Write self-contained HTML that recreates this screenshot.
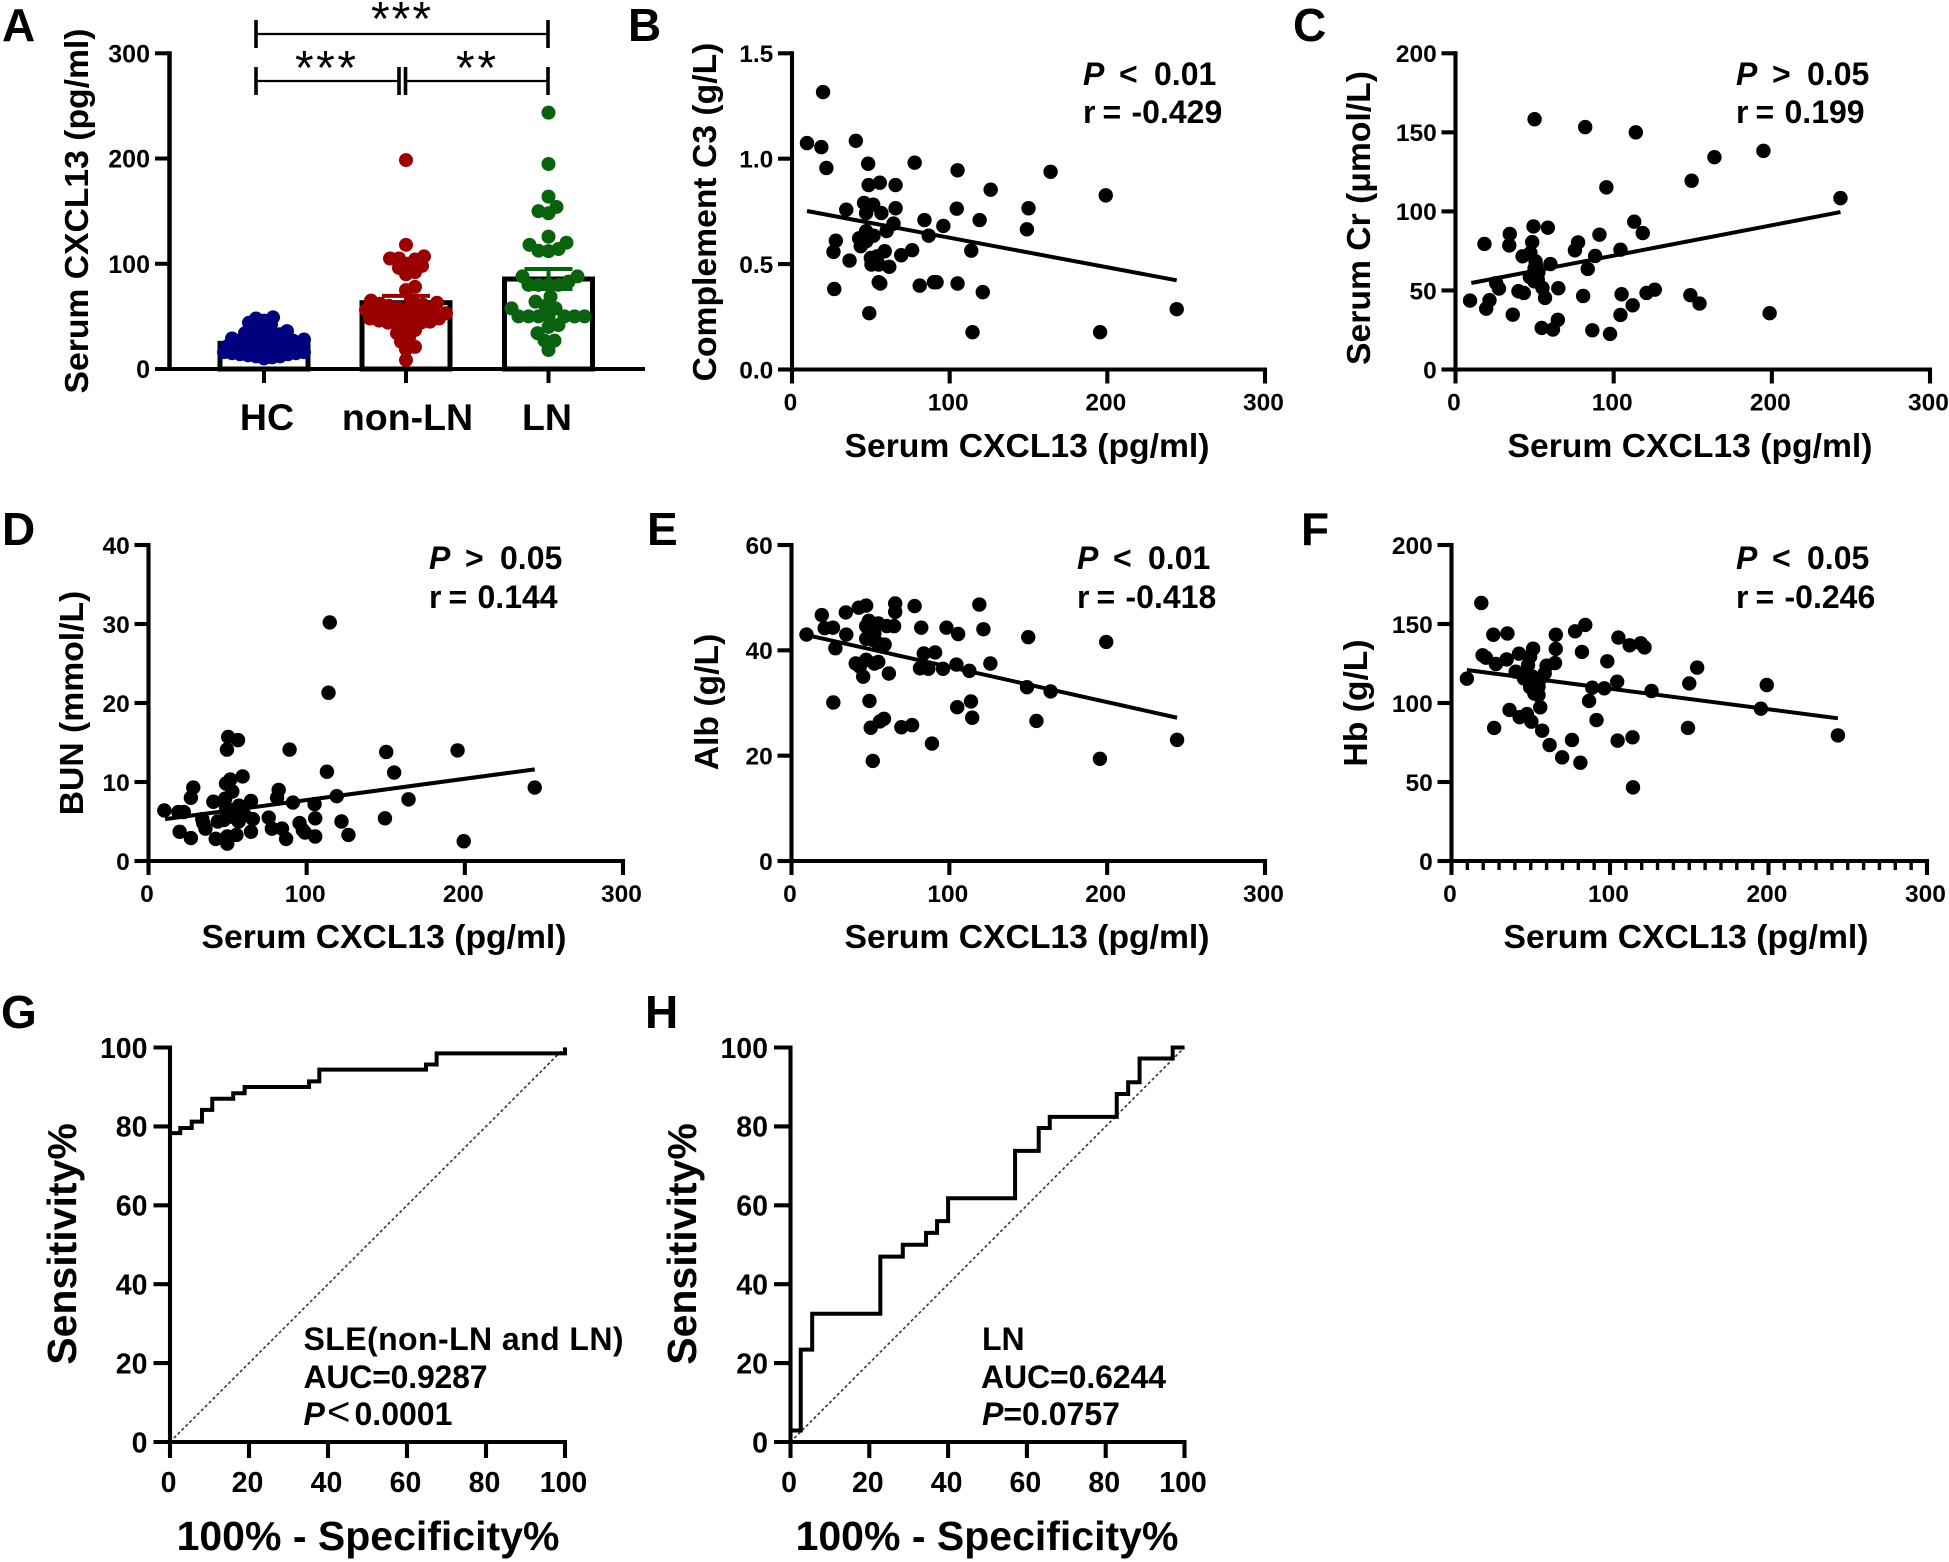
<!DOCTYPE html>
<html lang="en">
<head>
<meta charset="utf-8">
<title>CXCL13 figure panels</title>
<style>
html,body{margin:0;padding:0;background:#fff;}
svg{display:block;font-family:"Liberation Sans",Arial,sans-serif;font-weight:bold;fill:#000;}
.title{font-size:33.7px;}
.letter{font-size:46px;}
.note{font-size:32px;}
.roc-title{font-size:41px;}
</style>
</head>
<body>
<svg id="figure" xmlns="http://www.w3.org/2000/svg" width="1949" height="1562" viewBox="0 0 1949 1562">
  <rect x="0" y="0" width="1949" height="1562" fill="#fff"/>
  <g id="marks"></g>

  <g class="letter">
    <text x="2" y="41">A</text>
    <text x="628" y="41">B</text>
    <text x="1293" y="41">C</text>
    <text x="2" y="545">D</text>
    <text x="647" y="545">E</text>
    <text x="1301" y="545">F</text>
    <text x="1" y="1028">G</text>
    <text x="645" y="1028">H</text>
  </g>

  <g class="title">
    <text text-anchor="middle" transform="translate(88,211) rotate(-90)">Serum CXCL13 (pg/ml)</text>
    <text text-anchor="middle" transform="translate(716,212) rotate(-90)">Complement C3 (g/L)</text>
    <text text-anchor="middle" transform="translate(1370,218) rotate(-90)">Serum Cr (μmol/L)</text>
    <text text-anchor="middle" transform="translate(83,703) rotate(-90)">BUN (mmol/L)</text>
    <text text-anchor="middle" transform="translate(718,702) rotate(-90)">Alb (g/L)</text>
    <text text-anchor="middle" transform="translate(1367,703) rotate(-90)">Hb (g/L)</text>
    <text text-anchor="middle" x="1027" y="457">Serum CXCL13 (pg/ml)</text>
    <text text-anchor="middle" x="1690" y="457">Serum CXCL13 (pg/ml)</text>
    <text text-anchor="middle" x="384" y="948">Serum CXCL13 (pg/ml)</text>
    <text text-anchor="middle" x="1027" y="948">Serum CXCL13 (pg/ml)</text>
    <text text-anchor="middle" x="1686" y="948">Serum CXCL13 (pg/ml)</text>
  </g>

  <g class="roc-title">
    <text text-anchor="middle" transform="translate(76,1244) rotate(-90)">Sensitivity%</text>
    <text text-anchor="middle" transform="translate(696,1244) rotate(-90)">Sensitivity%</text>
    <text text-anchor="middle" x="368" y="1550">100% - Specificity%</text>
    <text text-anchor="middle" x="987" y="1550">100% - Specificity%</text>
  </g>

  <g class="note">
    <g>
      <text x="1083" y="85"><tspan font-style="italic">P</tspan><tspan x="1119">&lt;</tspan><tspan x="1154">0.01</tspan></text>
      <text x="1083" y="123">r<tspan x="1102.5">=</tspan><tspan x="1131.5">-0.429</tspan></text>
    </g>
    <g>
      <text x="1736" y="85"><tspan font-style="italic">P</tspan><tspan x="1772">&gt;</tspan><tspan x="1807">0.05</tspan></text>
      <text x="1736" y="123">r<tspan x="1755.5">=</tspan><tspan x="1784.5">0.199</tspan></text>
    </g>
    <g>
      <text x="429" y="569"><tspan font-style="italic">P</tspan><tspan x="465">&gt;</tspan><tspan x="500">0.05</tspan></text>
      <text x="429" y="608">r<tspan x="448.5">=</tspan><tspan x="477.5">0.144</tspan></text>
    </g>
    <g>
      <text x="1077" y="569"><tspan font-style="italic">P</tspan><tspan x="1113">&lt;</tspan><tspan x="1148">0.01</tspan></text>
      <text x="1077" y="608">r<tspan x="1096.5">=</tspan><tspan x="1125.5">-0.418</tspan></text>
    </g>
    <g>
      <text x="1736" y="569"><tspan font-style="italic">P</tspan><tspan x="1772">&lt;</tspan><tspan x="1807">0.05</tspan></text>
      <text x="1736" y="608">r<tspan x="1755.5">=</tspan><tspan x="1784.5">-0.246</tspan></text>
    </g>
    <g>
      <text x="303.5" y="1350" textLength="320" lengthAdjust="spacing">SLE(non-LN and LN)</text>
      <text x="303.5" y="1388" textLength="184" lengthAdjust="spacing">AUC=0.9287</text>
      <text x="303.5" y="1425"><tspan font-style="italic">P</tspan><tspan x="327" font-weight="normal" font-size="40">&lt;</tspan><tspan x="354.5">0.0001</tspan></text>
    </g>
    <g>
      <text x="982" y="1350">LN</text>
      <text x="981" y="1388" textLength="185" lengthAdjust="spacing">AUC=0.6244</text>
      <text x="982" y="1425"><tspan font-style="italic">P</tspan>=0.0757</text>
    </g>
  </g>

  <g stroke="#000" fill="none">
    <path stroke-width="2.3" d="M256 34H548"/>
    <path stroke-width="3.6" d="M256 20V48 M548 20V48"/>
    <path stroke-width="2.3" d="M256 81H399"/>
    <path stroke-width="3.6" d="M256 67V95 M399 67V95"/>
    <path stroke-width="2.3" d="M405.5 81H548"/>
    <path stroke-width="3.6" d="M405.5 67V95 M548 67V95"/>
  </g>
  <g font-weight="normal" font-size="48">
    <text x="371" y="35" textLength="60" lengthAdjust="spacing" style="font-weight:normal">***</text>
    <text x="295" y="84" textLength="61" lengthAdjust="spacing" style="font-weight:normal">***</text>
    <text x="456" y="84" textLength="40" lengthAdjust="spacing" style="font-weight:normal">**</text>
  </g>
</svg>

<script>
// Panel A data
const categories = ['HC', 'non-LN', 'LN'];
const barMeans = [24.4, 63, 85.5];
const barSems = [1.5, 6.5, 9.5];
const hcValues = [10, 11, 12, 12, 13, 14, 14, 15, 15, 16, 16, 17, 18, 18, 19, 19, 20, 20, 21, 22, 22, 23, 23, 24, 25, 25, 26, 27, 27, 28, 29, 30, 31, 32, 33, 34, 36, 38, 40, 42, 44, 46, 48, 49];
const nonLnValues = [198.5, 118, 107, 105, 105, 104, 100, 98, 96, 92, 90, 78, 75, 65, 64, 63, 62, 61, 60, 58, 57, 56, 55, 55, 54, 53, 52, 51, 50, 49, 48, 48, 47, 46, 45, 44, 44, 43, 40, 37, 34, 30, 26, 21, 18.6, 8.5];
const lnValues = [243.6, 194.8, 163.8, 154, 150, 148, 125.8, 120, 118, 114, 112.4, 112, 88, 88, 83, 80, 80, 80, 80, 68.7, 64, 60, 57.6, 57.6, 50, 50, 50, 50, 50, 50, 50, 41.8, 40, 34, 27, 27, 18];
const yTicksA = [0, 100, 200, 300];

// Panel B data
const bX = [9.5, 19.7, 18.6, 21.8, 40.5, 48.3, 77.8, 105, 164, 126, 199, 48.6, 55.7, 65.7, 34.4, 45.7, 51.5, 47, 56.7, 65.7, 104.5, 150, 119, 84, 64.4, 96, 60, 149, 47, 51.7, 86.7, 42.6, 27.8, 47, 43.6, 26.3, 36.5, 69.3, 76.2, 58.8, 113.7, 50, 54, 50.4, 55, 61.7, 55, 56, 26.8, 81, 90, 91.7, 105, 121, 49, 114.5, 195.4, 244];
const bY = [1.074, 1.316, 1.055, 0.956, 1.085, 0.976, 0.981, 0.945, 0.938, 0.853, 0.826, 0.875, 0.886, 0.875, 0.758, 0.79, 0.782, 0.742, 0.742, 0.765, 0.763, 0.765, 0.709, 0.709, 0.692, 0.681, 0.657, 0.665, 0.656, 0.635, 0.635, 0.622, 0.611, 0.608, 0.585, 0.558, 0.517, 0.542, 0.566, 0.561, 0.564, 0.529, 0.537, 0.498, 0.498, 0.487, 0.414, 0.408, 0.382, 0.398, 0.414, 0.414, 0.408, 0.367, 0.267, 0.177, 0.177, 0.286];
const bFitX = [9.5, 244];
const bFitY = [0.752, 0.423];
const bTicks = ['0.0', '0.5', '1.0', '1.5'];

// Panel C data
const cX = [50, 82, 114, 194.7, 163.7, 149.3, 95.4, 243.4, 113, 49.3, 58.4, 118.4, 34.3, 91, 77.5, 18.3, 34, 48.5, 75.5, 104.3, 47.4, 42.4, 88.3, 50.6, 60, 51, 83.6, 52.4, 47, 25.7, 49.8, 27.5, 55, 65, 39.8, 43.2, 126, 120.8, 105, 80.7, 148.5, 56.6, 9.2, 21.5, 154.3, 19.4, 112, 104.3, 36.2, 198.6, 64.7, 54.5, 61.6, 86.5, 97.7, 50, 52];
const cY = [158.3, 153.3, 150, 138.3, 134.3, 119.4, 115.2, 108.4, 93.5, 90.5, 89.7, 86.3, 85.7, 85.3, 80.4, 79.4, 78.5, 80.6, 75.4, 75.8, 73.7, 71.6, 71.8, 68.4, 66.7, 65.3, 63.6, 61.5, 58.5, 54.7, 55.8, 51.2, 51.6, 51.4, 49.5, 48.4, 50.5, 48.4, 47.6, 46.5, 47, 45.3, 43.6, 43.8, 41.7, 38.5, 40.6, 34.5, 34.7, 35.6, 31.4, 26.3, 25.3, 24.8, 22.5, 64, 57];
const cFitX = [10, 243.4];
const cFitY = [54.7, 99.6];
const cTicks = ['0', '50', '100', '150', '200'];

// Panel D data
const dX = [114.6, 113.8, 50.4, 56.6, 49.6, 89.2, 195.4, 150.3, 112.8, 155.3, 59.5, 51.7, 49, 28.3, 244.2, 82.3, 53, 26.8, 119, 81.3, 164.4, 64.8, 48.5, 41, 91.3, 105, 57.2, 49, 10, 18.9, 22.3, 76, 105.4, 149.5, 66, 122, 60.8, 53, 34, 43.8, 57, 47.7, 34.6, 95.5, 78, 84.4, 97.6, 36, 64.8, 19.7, 98.9, 126.4, 105.4, 26.8, 87, 42.5, 55.6, 49.8, 49.8, 199.3];
const dY = [30.2, 21.3, 15.7, 15.3, 14.1, 14.1, 14, 13.8, 11.3, 11.2, 10.7, 10.3, 9.8, 9.3, 9.3, 9, 8.8, 8, 8.2, 8, 7.8, 7.6, 7.9, 7.5, 7.4, 7.2, 7, 6.8, 6.4, 6.2, 6.2, 5.5, 5.4, 5.4, 5.3, 5, 5.8, 5.6, 5.3, 5, 5, 5.2, 4.8, 4.8, 4.1, 4.1, 3.9, 4.1, 3.7, 3.7, 3.6, 3.3, 3.1, 2.9, 2.8, 2.8, 3.3, 3.1, 2.2, 2.5];
const dFitX = [10.5, 244.2];
const dFitY = [5.3, 11.6];
const dTicks = ['0', '10', '20', '30', '40'];

// Panel E data
const eX = [119, 65.7, 47.3, 42.6, 78, 65.7, 19.2, 34.4, 49, 21, 26.3, 47.3, 55, 60.4, 65, 82.2, 98.2, 121.6, 9.5, 34.7, 105.6, 52.5, 150, 47.3, 51.2, 199.4, 55, 59, 27.8, 57.8, 91, 83.8, 47.3, 55, 40.7, 52.5, 104.5, 126, 43.3, 81.4, 86.7, 96, 112.7, 61.7, 45.4, 149.2, 164.2, 26.5, 49.4, 113.7, 105, 114.5, 155.2, 58.6, 56, 76.4, 69.6, 50.2, 89, 244.3, 195.4, 51.5];
const eY = [48.7, 48.9, 48.5, 48.1, 48.4, 47.3, 46.7, 47.2, 45.6, 44.2, 44.3, 44.6, 45.1, 44.6, 44.6, 44.3, 44.3, 44, 43, 43, 43.1, 43.2, 42.5, 42.2, 42, 41.6, 41.3, 41.1, 40.4, 40.7, 39.6, 39.4, 38.2, 37.8, 37.5, 37.5, 37.3, 37.5, 36.9, 36.6, 36.5, 36.5, 36.1, 35.6, 35, 33, 32.2, 30.1, 30.4, 30.3, 29.2, 27.2, 26.6, 27, 26.5, 25.8, 25.4, 25.3, 22.3, 23, 19.4, 19];
const eFitX = [9.7, 244.3];
const eFitY = [42.9, 27.2];
const eTicks = ['0', '20', '40', '60'];

// Panel F data
const fX = [18.8, 84.4, 78, 35.3, 26.4, 65.8, 105.3, 119.4, 112.4, 121.8, 51.5, 65.8, 82.3, 19.6, 42.6, 49.6, 34.8, 21.7, 98.3, 28, 65.3, 60, 155, 48.3, 40.5, 58.8, 47, 9.7, 51, 45.7, 56.2, 104.5, 150, 198.9, 49.6, 54.9, 88.8, 96.4, 126.2, 52.3, 54.9, 86.8, 195.2, 56, 36.6, 47.6, 43, 50.4, 91.5, 26.9, 149.2, 57.2, 243.8, 114.2, 76, 104.8, 61.9, 69.8, 81.3, 114.5];
const fY = [163.3, 149.4, 145.4, 144, 143.2, 143.2, 141.4, 137.8, 136.5, 135.2, 134.4, 134.2, 132.3, 130.2, 131.2, 129.3, 127.6, 128.7, 126.4, 124.7, 125.3, 123.6, 122.4, 124, 119.8, 118.8, 118.8, 115.4, 116.7, 115.6, 115.6, 113.5, 112.4, 111.4, 110, 110.3, 109.7, 109.3, 107.6, 106, 105, 101.3, 96.4, 97.3, 95.6, 93, 91, 88.2, 89.2, 84.2, 84.2, 82.5, 79.5, 78.3, 76.6, 76.2, 73.4, 65.6, 62.2, 46.6];
const fFitX = [9.7, 243.8];
const fFitY = [120.9, 90.3];
const fTicks = ['0', '50', '100', '150', '200'];

const cxclTicks = ['0', '100', '200', '300'];

// Panels G and H data (ROC step corners)
const gFpr = [0, 0, 2.6, 5.5, 8.1, 10.7, 16, 18.9, 35.2, 37.8, 64.8, 67.5, 100];
const gTpr = [0, 78.3, 79.6, 81.2, 84.2, 87, 88.4, 90, 91.4, 94.4, 95.7, 98.5, 100];
const hFpr = [0, 0, 2.6, 5.5, 22.8, 28.5, 34.4, 37.2, 40, 57, 63, 65.8, 82.8, 85.7, 88.6, 97, 100];
const hTpr = [0, 2.9, 23.4, 32.5, 47, 50, 53, 56, 61.8, 73.8, 79.6, 82.4, 88.2, 91.2, 97.2, 100, 100];
const chanceLine = [0, 100];
const rocTicks = ['0', '20', '40', '60', '80', '100'];

const NS = 'http://www.w3.org/2000/svg';
const root = document.getElementById('marks');

function shape(tag, attrs, parent) {
  const el = document.createElementNS(NS, tag);
  for (const k in attrs) el.setAttribute(k, attrs[k]);
  (parent || root).appendChild(el);
  return el;
}
function linear(d0, d1, r0, r1) {
  return v => r0 + (v - d0) * (r1 - r0) / (d1 - d0);
}

function drawAxis(g, o) {
  // y axis line, x axis line, ticks and tick labels
  const yLine = shape('line', {x1: o.x0, x2: o.x0, y1: o.yTop - o.sw / 2, y2: o.y0 + o.sw / 2, stroke: '#000', 'stroke-width': o.sw}, g);
  
  
  const xLine = shape('line', {x1: o.x0 - o.yTickLen, x2: o.xEnd, y1: o.y0, y2: o.y0, stroke: '#000', 'stroke-width': o.sw}, g);
  
  
  o.yTicks.forEach((t, i) => {
    const y = o.yScale(parseFloat(t));
    const tick = shape('line', {x1: o.x0 - o.yTickLen, x2: o.x0, y1: y, y2: y, stroke: '#000', 'stroke-width': o.sw}, g);
    
    
    const lab = shape('text', {x: o.x0 - o.yTickLen - o.gap, y: y + o.fs * 0.36, 'text-anchor': 'end', 'font-size': o.fs}, g);
    lab.textContent = t;
    
    
  });
  if (o.minor) {
    for (let v = 0; v <= 300; v += 10) {
      if (v % 100 === 0) continue;
      const x = o.xScale(v);
      const m = shape('line', {x1: x, x2: x, y1: o.y0, y2: o.y0 + 9, stroke: '#000', 'stroke-width': 3.4}, g);
      
      
    }
  }
  o.xTicks.forEach(t => {
    const x = o.xScale(parseFloat(t));
    const tick = shape('line', {x1: x, x2: x, y1: o.y0, y2: o.y0 + o.xTickLen, stroke: '#000', 'stroke-width': o.sw}, g);
    
    
    const lab = shape('text', {x: x - 1.5, y: o.xLabelY, 'text-anchor': 'middle', 'font-size': o.fs}, g);
    lab.textContent = t;
    
    
  });
}

function drawScatter(cfg, xs, ys, fitX, fitY, yTicks) {
  const g = shape('g', {});
  
  
  const xScale = linear(0, 300, cfg.x0, cfg.x300);
  const yScale = linear(0, cfg.yMax, cfg.y0, cfg.yTop);
  drawAxis(g, {x0: cfg.x0, xEnd: cfg.x300 + 2, y0: cfg.y0, yTop: cfg.yTop, sw: 4.1, yTickLen: 14, xTickLen: 14, gap: 4.7, fs: 24.5,
    yTicks: yTicks, xTicks: cxclTicks, xScale: xScale, yScale: yScale, xLabelY: cfg.y0 + 41, minor: cfg.minor});
  xs.forEach((x, i) => {
    const dot = shape('circle', {cx: xScale(x), cy: yScale(ys[i]), r: 7.2, fill: '#000'}, g);
    
    
  });
  const fit = shape('line', {x1: xScale(fitX[0]), y1: yScale(fitY[0]), x2: xScale(fitX[1]), y2: yScale(fitY[1]), stroke: '#000', 'stroke-width': 4}, g);
  
  
}

function drawRoc(cfg, fpr, tpr) {
  const g = shape('g', {});
  
  
  const xScale = linear(0, 100, cfg.x0, cfg.x100);
  const yScale = linear(0, 100, cfg.y0, cfg.yTop);
  drawAxis(g, {x0: cfg.x0, xEnd: cfg.x100 + 2, y0: cfg.y0, yTop: cfg.yTop, sw: 4.1, yTickLen: 16.5, xTickLen: 16, gap: 6, fs: 28.5,
    yTicks: rocTicks, xTicks: rocTicks, xScale: xScale, yScale: yScale, xLabelY: 1492});
  const diag = shape('line', {x1: xScale(chanceLine[0]), y1: yScale(chanceLine[0]), x2: xScale(chanceLine[1]), y2: yScale(chanceLine[1]), stroke: '#333', 'stroke-width': 1.6, 'stroke-dasharray': '3 2.5'}, g);
  
  
  let d = 'M' + xScale(fpr[0]) + ' ' + yScale(tpr[0]);
  for (let i = 1; i < fpr.length; i++) d += 'H' + xScale(fpr[i]) + 'V' + yScale(tpr[i]);
  const curve = shape('path', {d: d, fill: 'none', stroke: '#000', 'stroke-width': 4}, g);
  
  
}

function swarmOffsets(values, yScale, minDist, maxOff) {
  // Beeswarm: place each value at the smallest free horizontal offset
  const order = values.map((v, i) => i).sort((a, b) => values[a] - values[b]);
  const placed = [];
  const out = new Array(values.length).fill(0);
  order.forEach(i => {
    const y = yScale(values[i]);
    let chosen = 0, best = -1;
    for (let k = 0; k <= maxOff; k++) {
      let done = false;
      for (const s of (k === 0 ? [1] : (i % 2 ? [1, -1] : [-1, 1]))) {
        const off = s * k;
        let near = Infinity;
        placed.forEach(p => { near = Math.min(near, Math.hypot(p.x - off, p.y - y)); });
        if (near > best) { best = near; chosen = off; }
        if (near >= minDist) { chosen = off; done = true; break; }
      }
      if (done) break;
    }
    placed.push({x: chosen, y: y});
    out[i] = chosen;
  });
  return out;
}

function drawPanelA() {
  const g = shape('g', {});
  
  
  const y0 = 369, yTop = 53.3;
  const yScale = linear(0, 300, y0, yTop);
  const centers = [264, 406, 548.5];
  const barWidth = 88;
  const colors = ['#00007f', '#9a0000', '#0a620f'];
  const groups = [hcValues, nonLnValues, lnValues];
  const minDists = [7.5, 9, 10];

  categories.forEach((name, i) => {
    const top = yScale(barMeans[i]);
    const bar = shape('rect', {x: centers[i] - barWidth / 2, y: top, width: barWidth, height: y0 - top, fill: '#fff', stroke: '#000', 'stroke-width': 5}, g);
    
    
  });

  const yAxis = shape('line', {x1: 169.5, x2: 169.5, y1: yTop - 2, y2: y0 + 2, stroke: '#000', 'stroke-width': 4.5}, g);
  
  
  const xAxis = shape('line', {x1: 155, x2: 645, y1: y0, y2: y0, stroke: '#000', 'stroke-width': 4.1}, g);
  
  

  yTicksA.forEach(t => {
    const y = yScale(t);
    const tick = shape('line', {x1: 155, x2: 170, y1: y, y2: y, stroke: '#000', 'stroke-width': 4}, g);
    
    
    const lab = shape('text', {x: 150, y: y + 9, 'text-anchor': 'end', 'font-size': 25}, g);
    lab.textContent = String(t);
    
    
  });

  categories.forEach((name, i) => {
    const tick = shape('line', {x1: centers[i], x2: centers[i], y1: y0, y2: 383, stroke: '#000', 'stroke-width': 4}, g);
    
    
    const lab = shape('text', {x: [267, 407.5, 547][i], y: 430, 'text-anchor': 'middle', 'font-size': 37.5}, g);
    lab.textContent = name;
    
    

    const offs = swarmOffsets(groups[i], yScale, minDists[i], 40);
    groups[i].forEach((v, j) => {
      const dot = shape('circle', {cx: centers[i] + offs[j], cy: yScale(v), r: 7, fill: colors[i]}, g);
      
      
    });

    const hi = yScale(barMeans[i] + barSems[i]);
    const lo = yScale(barMeans[i] - barSems[i]);
    const err = shape('path', {d: 'M' + (centers[i] - 24) + ' ' + hi + 'H' + (centers[i] + 24) + 'M' + centers[i] + ' ' + hi + 'V' + lo + 'M' + (centers[i] - 24) + ' ' + lo + 'H' + (centers[i] + 24), fill: 'none', stroke: colors[i], 'stroke-width': 4}, g);
    
    
  });
}

drawPanelA();
drawScatter({x0: 792, x300: 1265, y0: 369.5, yTop: 53.3, yMax: 1.5}, bX, bY, bFitX, bFitY, bTicks);
drawScatter({x0: 1455.5, x300: 1930, y0: 369.5, yTop: 53.3, yMax: 200}, cX, cY, cFitX, cFitY, cTicks);
drawScatter({x0: 148.5, x300: 623, y0: 861, yTop: 545, yMax: 40}, dX, dY, dFitX, dFitY, dTicks);
drawScatter({x0: 791.5, x300: 1265, y0: 861, yTop: 545, yMax: 60}, eX, eY, eFitX, eFitY, eTicks);
drawScatter({x0: 1451.5, x300: 1927, y0: 861, yTop: 545, yMax: 200, minor: true}, fX, fY, fFitX, fFitY, fTicks);
drawRoc({x0: 170, x100: 565, y0: 1442, yTop: 1047.5}, gFpr, gTpr);
drawRoc({x0: 790.5, x100: 1184.5, y0: 1442, yTop: 1047.5}, hFpr, hTpr);
</script>
</body>
</html>
